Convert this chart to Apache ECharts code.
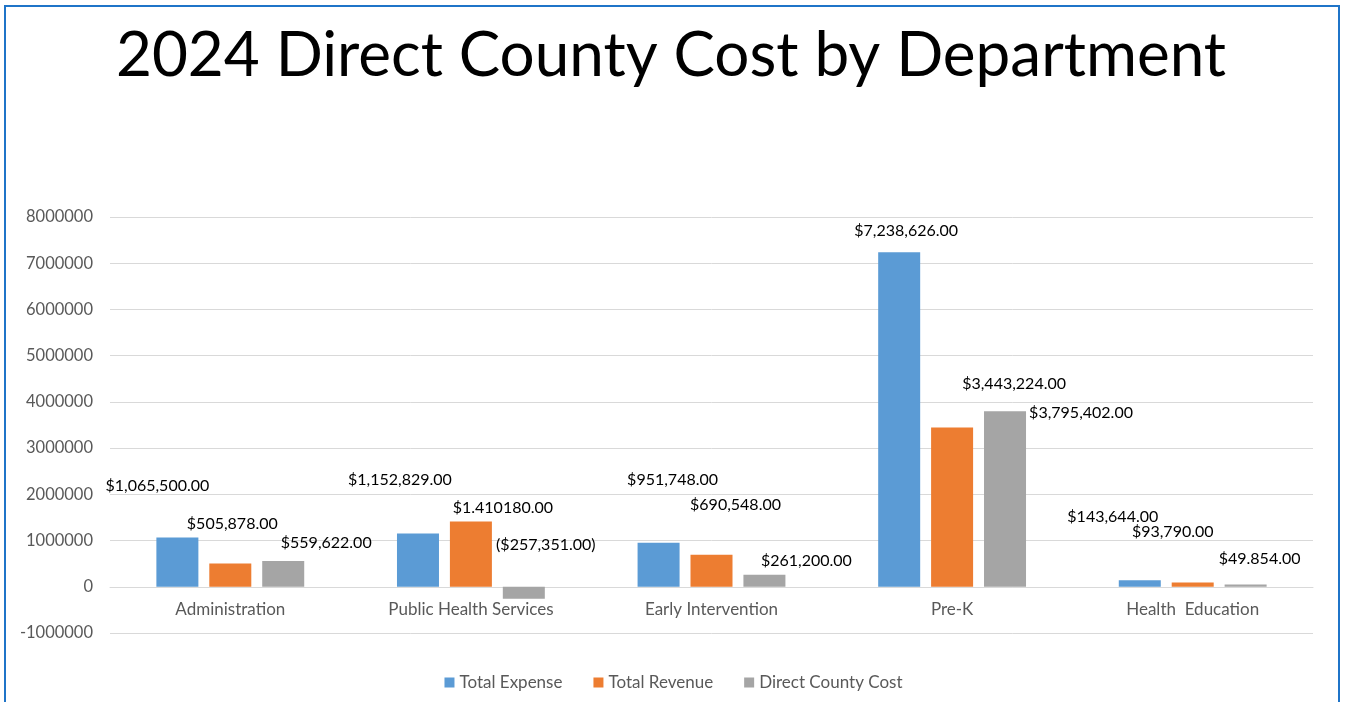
<!DOCTYPE html>
<html>
<head>
<meta charset="utf-8">
<title>2024 Direct County Cost by Department</title>
<script src="https://cdn.jsdelivr.net/npm/echarts@6/dist/echarts.min.js"></script>
<style>
  html, body { margin: 0; padding: 0; background: #fff; }
  #chart { width: 1347px; height: 702px; }
</style>
</head>
<body>
<div id="chart"></div>
<script>
// categories and series values
const departments = ['Administration', 'Public Health Services', 'Early Intervention', 'Pre-K', 'Health  Education']
const totalExpense = [1065500, 1152829, 951748, 7238626, 143644]
const totalRevenue = [505878, 1410180, 690548, 3443224, 93790]
const directCountyCost = [559622, -257351, 261200, 3795402, 49854]

// label text as printed in the original (typos kept)
const expenseText = ['$1,065,500.00', '$1,152,829.00', '$951,748.00', '$7,238,626.00', '$143,644.00']
const revenueText = ['$505,878.00', '$1.410180.00', '$690,548.00', '$3,443,224.00', '$93,790.00']
const costText = ['$559,622.00', '($257,351.00)', '$261,200.00', '$3,795,402.00', '$49.854.00']

// hand placed label offsets (the labels were dragged around in the original)
const expenseOffsets = [[-20, -39], [-18, -41], [14, -50], [7, -8], [-27, -50]]
const revenueOffsets = [[2, -27], [32, -1], [24, -37], [62, -31], [-20, -38]]
const costOffsets = [[43, -5], [22, -29], [42, -1], [76, 14], [14, -13]]

const font = 'Lato, "Open Sans", sans-serif'

function withLabels (values, texts, offsets) {
  return values.map(function (v, i) {
    return {
      value: v,
      label: { offset: offsets[i], formatter: texts[i] }
    }
  })
}

let myChart = echarts.init(document.getElementById('chart'))

let barLabel = { show: true, position: 'top', fontFamily: font, fontSize: 16, color: '#000' }

let option = {
  backgroundColor: '#fff',
  animation: false,
  title: {
    text: '2024 Direct County Cost by Department',
    left: 666,
    top: 20,
    textAlign: 'center',
    textStyle: {
      fontFamily: font,
      fontSize: 62,
      fontWeight: 'normal',
      color: '#000'
    }
  },
  graphic: [{
    type: 'rect',
    shape: { x: 5, y: 6, width: 1334, height: 720 },
    style: { fill: 'none', stroke: '#1f74c8', lineWidth: 2 },
    silent: true
  }],
  legend: {
    bottom: 6,
    left: 'center',
    itemWidth: 10,
    itemHeight: 10,
    itemGap: 31,
    icon: 'rect',
    textStyle: { fontFamily: font, fontSize: 17, color: '#595959' }
  },
  grid: {
    left: 110,
    right: 34,
    top: 217,
    bottom: 69
  },
  xAxis: {
    type: 'category',
    data: departments,
    offset: -46,
    axisTick: { show: false },
    axisLine: { lineStyle: { color: '#d9d9d9' } },
    axisLabel: {
      margin: 14,
      fontFamily: font,
      fontSize: 17,
      color: '#595959'
    }
  },
  yAxis: {
    type: 'value',
    min: -1000000,
    max: 8000000,
    interval: 1000000,
    axisLine: { show: false },
    axisTick: { show: false },
    splitLine: { lineStyle: { color: '#d9d9d9' } },
    axisLabel: {
      margin: 17,
      fontFamily: font,
      fontSize: 16.5,
      color: '#595959',
      formatter: function (v) { return String(v) }
    }
  },
  series: [
    {
      name: 'Total Expense',
      type: 'bar',
      barWidth: 42,
      barGap: '26%',
      itemStyle: { color: '#5b9bd5' },
      label: barLabel,
      data: withLabels(totalExpense, expenseText, expenseOffsets)
    },
    {
      name: 'Total Revenue',
      type: 'bar',
      barWidth: 42,
      barGap: '26%',
      itemStyle: { color: '#ed7d31' },
      label: barLabel,
      data: withLabels(totalRevenue, revenueText, revenueOffsets)
    },
    {
      name: 'Direct County Cost',
      type: 'bar',
      barWidth: 42,
      barGap: '26%',
      itemStyle: { color: '#a5a5a5' },
      label: barLabel,
      data: withLabels(directCountyCost, costText, costOffsets)
    }
  ]
}

myChart.setOption(option)
</script>
</body>
</html>
